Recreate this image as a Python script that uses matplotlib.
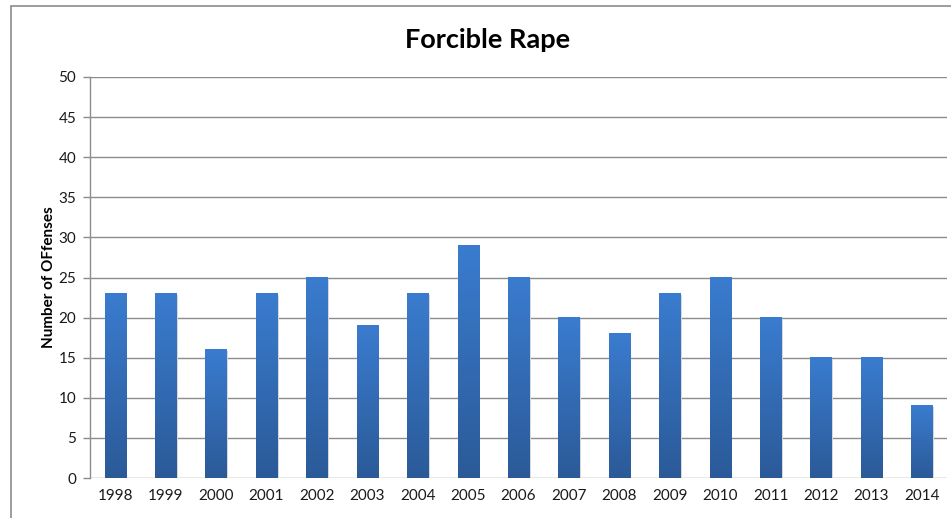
import matplotlib
matplotlib.use("Agg")
import matplotlib.pyplot as plt
import matplotlib.colors as mcolors
import numpy as np

years = ["1998", "1999", "2000", "2001", "2002", "2003", "2004", "2005", "2006",
         "2007", "2008", "2009", "2010", "2011", "2012", "2013", "2014"]
offenses = [23, 23, 16, 23, 25, 19, 23, 29, 25, 20, 18, 23, 25, 20, 15, 15, 9]
yticks = [0, 5, 10, 15, 20, 25, 30, 35, 40, 45, 50]

W, H = 951, 518
fig = plt.figure(figsize=(W / 100, H / 100), dpi=100)
plt.rcParams["font.family"] = ["Lato", "DejaVu Sans"]

# chart border (cropped on right and bottom)
fig.patches.append(plt.Rectangle((11 / W, -0.05), 1.2, 1 - 6 / H + 0.05,
                                 transform=fig.transFigure, fill=False,
                                 edgecolor="#8c8c8c", linewidth=1.2))

ax = fig.add_axes([90 / W, 1 - 478 / H, (947 - 90) / W, (478 - 77) / H])

x = np.arange(len(years))
bars = ax.bar(x, offenses, width=0.42, color="#3570b8", zorder=3)

cmap = mcolors.LinearSegmentedColormap.from_list("grad", ["#2b5a98", "#3a7ccf"])
grad = np.linspace(0, 1, 256).reshape(-1, 1)
for b in bars:
    x0, w, h = b.get_x(), b.get_width(), b.get_height()
    # soft shadow
    ax.add_patch(plt.Rectangle((x0 + 0.03, 0), w, h - 0.15, color="#d8d8d8",
                               zorder=2, linewidth=0))
    ax.imshow(grad, cmap=cmap, origin="lower", extent=(x0, x0 + w, 0, h),
              aspect="auto", zorder=4, interpolation="bilinear")

ax.set_xlim(-0.5, len(years) - 0.5)
ax.set_ylim(0, 50)
ax.set_yticks(yticks)
ax.set_yticklabels([str(v) for v in yticks], fontsize=11, color="#1a1a1a")
ax.set_xticks(x)
ax.set_xticklabels(years, fontsize=11, color="#1a1a1a")
ax.tick_params(axis="x", length=0, pad=8)
ax.tick_params(axis="y", length=5, color="#8c8c8c", width=1, pad=5)
ax.grid(axis="y", color="#8c8c8c", linewidth=1, zorder=0)
for s in ["top", "right", "bottom"]:
    ax.spines[s].set_visible(False)
ax.spines["left"].set_color("#8c8c8c")
ax.spines["left"].set_linewidth(1)

ax.set_ylabel("Number of OFfenses", fontsize=11, fontweight="bold", labelpad=2)
fig.text(488 / W, 1 - 40 / H, "Forcible Rape", ha="center", va="center",
         fontsize=19.5, fontweight="bold")

fig.savefig("out.png", dpi=100, facecolor="white")
